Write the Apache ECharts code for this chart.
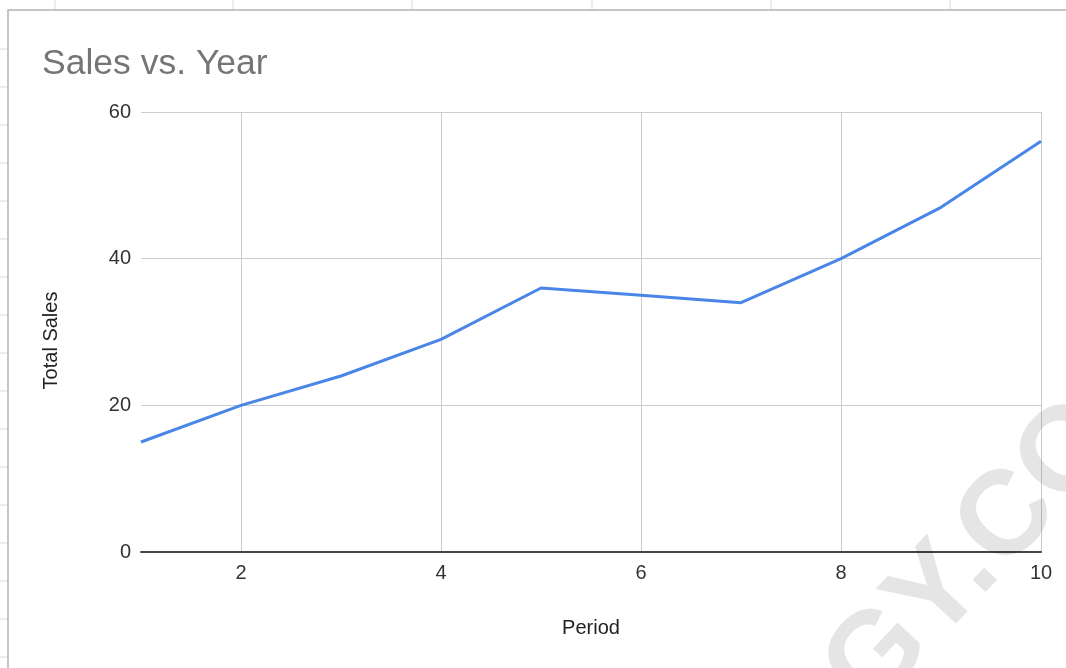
<!DOCTYPE html>
<html>
<head>
<meta charset="utf-8">
<title>Sales vs. Year</title>
<script src="https://cdn.jsdelivr.net/npm/echarts@6/dist/echarts.min.js"></script>
<style>
  html, body { margin: 0; padding: 0; background: #ffffff; }
  #chart { width: 1066px; height: 668px; }
</style>
</head>
<body>
<div id="chart"></div>
<script>
// Sales per period
const periods = [1, 2, 3, 4, 5, 6, 7, 8, 9, 10];
const totalSales = [15, 20, 24, 29, 36, 35, 34, 40, 47, 56];
const xTickLabels = [2, 4, 6, 8, 10];
const yTickLabels = [0, 20, 40, 60];

const FONT = '"Liberation Sans", Arial, sans-serif';
const chart = echarts.init(document.getElementById('chart'), null, { renderer: 'canvas' });

// spreadsheet cell lines peeking out around the chart card
const sheetLines = [];
[55, 233, 412, 592, 771, 950].forEach(function (x) {
  sheetLines.push({ type: 'line', z: -20, shape: { x1: x, y1: 0, x2: x, y2: 10 },
    style: { stroke: '#d9d9d9', lineWidth: 1 } });
});
for (let y = 49; y < 668; y += 38) {
  sheetLines.push({ type: 'line', z: -20, shape: { x1: 0, y1: y, x2: 8, y2: y },
    style: { stroke: '#d9d9d9', lineWidth: 1 } });
}

const option = {
  backgroundColor: '#ffffff',
  animation: false,
  title: {
    text: 'Sales vs. Year',
    left: 42,
    top: 46,
    padding: 0,
    textStyle: { fontFamily: FONT, fontSize: 35.5, fontWeight: 'normal', color: '#757575' }
  },
  grid: { left: 141, right: 25, top: 112, bottom: 116, containLabel: false },
  xAxis: {
    type: 'value',
    min: 1,
    max: 10,
    interval: 1,
    name: 'Period',
    nameLocation: 'middle',
    nameGap: 66,
    nameTextStyle: { fontFamily: FONT, fontSize: 20, color: '#222222' },
    axisLine: { show: true, onZero: false, lineStyle: { color: '#444444', width: 2 } },
    axisTick: { show: false },
    axisLabel: {
      margin: 11,
      fontFamily: FONT,
      fontSize: 20,
      color: '#333333',
      showMinLabel: true,
      formatter: function (v) { return xTickLabels.indexOf(v) >= 0 ? String(v) : ''; }
    },
    splitLine: {
      show: true,
      lineStyle: { color: ['rgba(0,0,0,0)', '#cccccc'], width: 1 }
    }
  },
  yAxis: {
    type: 'value',
    min: yTickLabels[0],
    max: yTickLabels[yTickLabels.length - 1],
    interval: 20,
    name: 'Total Sales',
    nameLocation: 'middle',
    nameGap: 80,
    nameTextStyle: { fontFamily: FONT, fontSize: 20, color: '#222222', padding: [0, 17, 0, 0] },
    axisLine: { show: false },
    axisTick: { show: false },
    axisLabel: { margin: 10, fontFamily: FONT, fontSize: 20, color: '#333333' },
    splitLine: { show: true, lineStyle: { color: '#cccccc', width: 1 } }
  },
  series: [{
    type: 'line',
    data: periods.map(function (p, i) { return [p, totalSales[i]]; }),
    showSymbol: false,
    symbol: 'none',
    lineStyle: { color: '#4a86e8', width: 3 },
    z: 3
  }],
  graphic: sheetLines.concat([
    {
      // chart card
      type: 'rect', z: -10,
      shape: { x: 8, y: 10, width: 1120, height: 720 },
      style: { fill: '#ffffff', stroke: '#b3b3b3', lineWidth: 1.5 }
    },
    {
      type: 'text', z: 100,
      x: 974, y: 556,
      rotation: 47 * Math.PI / 180,
      style: {
        text: 'GY.CO',
        fontFamily: FONT,
        fontWeight: 'bold',
        fontSize: 120,
        fill: 'rgba(0,0,0,0.1)',
        align: 'center',
        verticalAlign: 'middle'
      }
    }
  ])
};

chart.setOption(option);
</script>
</body>
</html>
